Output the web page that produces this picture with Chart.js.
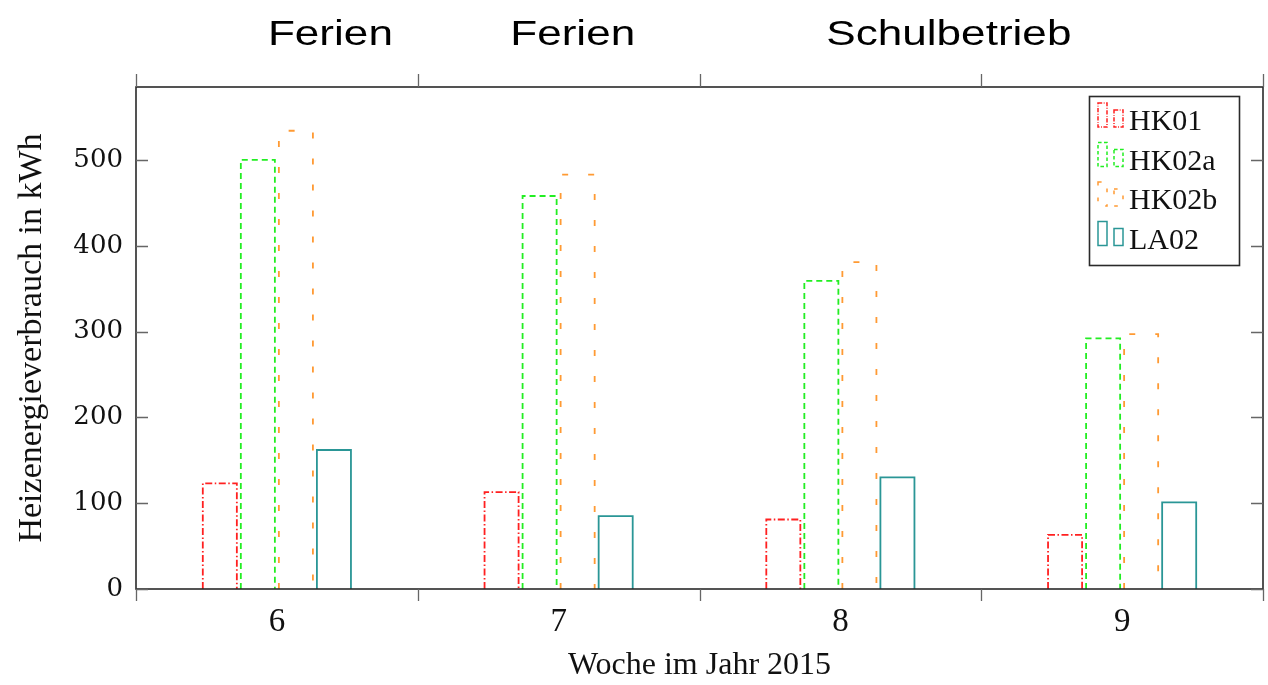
<!DOCTYPE html>
<html>
<head>
<meta charset="utf-8">
<style>
  html, body { margin: 0; padding: 0; background: #fff; }
  #wrap { width: 1268px; height: 685px; }
</style>
<script src="https://cdn.jsdelivr.net/npm/chart.js@4/dist/chart.umd.min.js"></script>
</head>
<body>
<div id="wrap"><canvas id="c" width="1268" height="685"></canvas></div>
<script>
// Weekly heating energy per circuit (kWh)
const weeks = ['6', '7', '8', '9'];
const hk01  = [123, 113, 81, 63];
const hk02a = [500, 458, 359, 292];
const hk02b = [534, 483, 381, 297];
const la02  = [162, 85, 130, 101];

// Period labels above the plot and where they sit along the week axis
const periodLabels = ['Ferien', 'Ferien', 'Schulbetrieb'];
const periodAt     = [0.19, 1.05, 2.385];

// Outline style per series
const seriesStyles = [
  { color: '#ff2020', dash: [7, 2.5, 1.5, 2.5] },
  { color: '#22ee22', dash: [6, 4] },
  { color: '#ff9a33', dash: [6, 20] },
  { color: '#2a9696', dash: [] }
];

const serif = '"Liberation Serif", "Times New Roman", serif';

function traceOpenBar(ctx, left, right, top, base) {
  ctx.beginPath();
  ctx.moveTo(left, base);
  ctx.lineTo(left, top);
  ctx.lineTo(right, top);
  ctx.lineTo(right, base);
  ctx.stroke();
}

const outlinePlugin = {
  id: 'outlines',
  afterDatasetsDraw(chart) {
    const ctx = chart.ctx;
    const area = chart.chartArea;
    ctx.save();
    ctx.beginPath();
    ctx.rect(area.left, area.top, area.right - area.left, area.bottom - area.top);
    ctx.clip();
    chart.data.datasets.forEach((ds, i) => {
      const st = seriesStyles[i];
      const meta = chart.getDatasetMeta(i);
      ctx.strokeStyle = st.color;
      ctx.lineWidth = 1.8;
      ctx.setLineDash(st.dash);
      meta.data.forEach(bar => {
        const p = bar.getProps(['x', 'y', 'base', 'width'], true);
        traceOpenBar(ctx, p.x - p.width / 2, p.x + p.width / 2, p.y, p.base);
      });
    });
    ctx.restore();
  },
  afterDraw(chart) {
    const ctx = chart.ctx;
    const a = chart.chartArea;
    const xs = chart.scales.x;
    const ys = chart.scales.y;
    ctx.save();
    ctx.setLineDash([]);

    // frame
    ctx.strokeStyle = '#2a2a2a';
    ctx.lineWidth = 1.6;
    ctx.strokeRect(a.left, a.top, a.right - a.left, a.bottom - a.top);

    // inward value ticks on left and right
    ctx.strokeStyle = '#666';
    ctx.lineWidth = 1.3;
    ys.ticks.forEach(t => {
      const py = Math.round(ys.getPixelForValue(t.value)) + 0.5;
      ctx.beginPath();
      ctx.moveTo(a.left, py); ctx.lineTo(a.left + 12, py);
      ctx.moveTo(a.right, py); ctx.lineTo(a.right - 12, py);
      ctx.stroke();
    });

    // outward week-boundary ticks at top and bottom
    for (let k = 0; k <= weeks.length; k++) {
      const px = Math.round(xs.getPixelForValue(k - 0.5)) + 0.5;
      ctx.beginPath();
      ctx.moveTo(px, a.top); ctx.lineTo(px, a.top - 13);
      ctx.moveTo(px, a.bottom); ctx.lineTo(px, a.bottom + 12);
      ctx.stroke();
    }

    // period labels
    ctx.fillStyle = '#000';
    ctx.font = '35px "Liberation Sans", Arial, sans-serif';
    ctx.textAlign = 'center';
    ctx.textBaseline = 'alphabetic';
    periodLabels.forEach((txt, i) => {
      const cx = xs.getPixelForValue(periodAt[i]);
      ctx.save();
      ctx.translate(cx, 45);
      ctx.scale(1.26, 1);
      ctx.fillText(txt, 0, 0);
      ctx.restore();
    });

    // legend
    const lx = 1089.5, ly = 96.5, lw = 150, lh = 169;
    ctx.fillStyle = '#fff';
    ctx.fillRect(lx, ly, lw, lh);
    ctx.strokeStyle = '#2a2a2a';
    ctx.lineWidth = 1.6;
    ctx.strokeRect(lx, ly, lw, lh);
    ctx.font = '30px ' + serif;
    ctx.textAlign = 'left';
    chart.data.datasets.forEach((ds, i) => {
      const st = seriesStyles[i];
      const base = 127 + i * 39.5;
      ctx.strokeStyle = st.color;
      ctx.lineWidth = 1.5;
      ctx.setLineDash(st.dash.map(v => v * 0.6));
      ctx.strokeRect(1098, base - 24, 9, 24);
      ctx.strokeRect(1114, base - 17, 9, 17);
      ctx.setLineDash([]);
      ctx.fillStyle = '#111';
      ctx.fillText(ds.label, 1129, base + 3);
    });
    ctx.restore();
  }
};

const mk = (label, data) => ({
  label, data,
  backgroundColor: 'rgba(0,0,0,0)',
  borderWidth: 0,
  categoryPercentage: 0.54,
  barPercentage: 0.895
});

new Chart(document.getElementById('c'), {
  type: 'bar',
  data: {
    labels: weeks,
    datasets: [
      mk('HK01', hk01),
      mk('HK02a', hk02a),
      mk('HK02b', hk02b),
      mk('LA02', la02)
    ]
  },
  options: {
    responsive: false,
    animation: false,
    events: [],
    layout: { padding: { top: 87, right: 5, left: 0, bottom: 0 } },
    plugins: { legend: { display: false }, tooltip: { enabled: false } },
    scales: {
      x: {
        offset: true,
        grid: { display: false, drawTicks: false },
        border: { display: false },
        ticks: { color: '#111', padding: 14, font: { family: serif, size: 33 } },
        title: {
          display: true, text: 'Woche im Jahr 2015', color: '#111',
          font: { family: serif, size: 32 }, padding: { top: 0, bottom: 0 }
        },
        afterFit(s) { s.height = 96; }
      },
      y: {
        min: 0, max: 585,
        grid: { display: false, drawTicks: false },
        border: { display: false },
        ticks: {
          stepSize: 100, color: '#111', padding: 13,
          font: { family: '"DejaVu Serif", serif', size: 26 }
        },
        afterBuildTicks(s) { s.ticks = s.ticks.filter(t => t.value % 100 === 0); },
        title: {
          display: true, text: 'Heizenergieverbrauch in kWh', color: '#111',
          font: { family: serif, size: 34 }, padding: { top: 12, bottom: 0 }
        },
        afterFit(s) { s.width = 136; }
      }
    }
  },
  plugins: [outlinePlugin]
});
</script>
</body>
</html>
